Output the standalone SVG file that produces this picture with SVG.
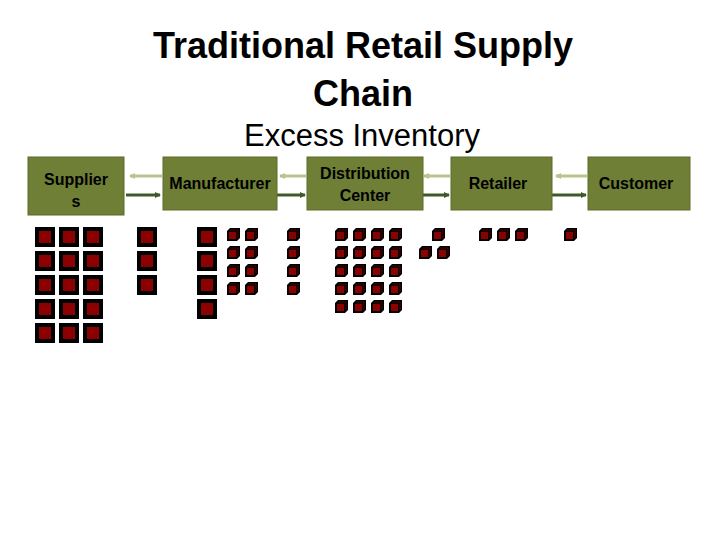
<svg xmlns="http://www.w3.org/2000/svg" xmlns:xlink="http://www.w3.org/1999/xlink" width="720" height="540" viewBox="0 0 720 540">
<style>
.t{font-family:"Liberation Sans",Arial,sans-serif;fill:#000;text-anchor:middle}
.box{fill:#6f7f35;stroke:#5d6b2b;stroke-width:1}
.lbl{font-family:"Liberation Sans",Arial,sans-serif;font-weight:bold;font-size:16px;text-anchor:middle;fill:#000}
.back{stroke:#b7c48a;stroke-width:3;fill:none}
.fwd{stroke:#3f5a2a;stroke-width:3;fill:none}
</style>
<defs>
<marker id="ah" markerWidth="6" markerHeight="6" refX="5" refY="3" orient="auto" markerUnits="userSpaceOnUse"><path d="M0,0 L6,3 L0,6 Z" fill="#3f5a2a"/></marker>
<marker id="ahl" markerWidth="6" markerHeight="6" refX="5" refY="3" orient="auto" markerUnits="userSpaceOnUse"><path d="M0,0 L6,3 L0,6 Z" fill="#b7c48a"/></marker>
<g id="sq"><rect width="20" height="20" fill="#000"/><rect x="4" y="4" width="12" height="12" fill="#8b0000"/></g>
<g id="cb"><path d="M0,3 L3,0 L13,0 L13,10 L10,13 L0,13 Z" fill="#000"/><rect x="2" y="4" width="7" height="7" fill="#8b0000"/><path d="M3,2 L11,2 L11,10" fill="none" stroke="#5a0000" stroke-width="1"/></g>
</defs>
<text class="t" x="363" y="58" font-size="36" font-weight="bold">Traditional Retail Supply</text>
<text class="t" x="363" y="106" font-size="36" font-weight="bold">Chain</text>
<text class="t" x="362" y="146" font-size="31">Excess Inventory</text>
<g id="connectors">
<line class="back" x1="162" y1="176" x2="130" y2="176" marker-end="url(#ahl)"/>
<line class="fwd" x1="126" y1="195" x2="160" y2="195" marker-end="url(#ah)"/>
<line class="back" x1="306" y1="176" x2="280" y2="176" marker-end="url(#ahl)"/>
<line class="fwd" x1="277" y1="195" x2="305" y2="195" marker-end="url(#ah)"/>
<line class="back" x1="450" y1="176" x2="424" y2="176" marker-end="url(#ahl)"/>
<line class="fwd" x1="414" y1="195" x2="449" y2="195" marker-end="url(#ah)"/>
<line class="back" x1="587" y1="176" x2="556" y2="176" marker-end="url(#ahl)"/>
<line class="fwd" x1="552" y1="195" x2="586" y2="195" marker-end="url(#ah)"/>
</g>
<g id="suppliers"><rect class="box" x="28" y="157" width="96" height="58"/><text class="lbl" x="76" y="185">Supplier</text><text class="lbl" x="76" y="207">s</text></g>
<g id="manufacturer"><rect class="box" x="163" y="157" width="114" height="53"/><text class="lbl" x="220" y="189">Manufacturer</text></g>
<g id="dc"><rect class="box" x="307" y="157" width="116" height="53"/><text class="lbl" x="365" y="179">Distribution</text><text class="lbl" x="365" y="201">Center</text></g>
<g id="retailer"><rect class="box" x="451" y="157" width="101" height="53"/><text class="lbl" x="498" y="189">Retailer</text></g>
<g id="customer"><rect class="box" x="588" y="157" width="102" height="53"/><text class="lbl" x="636" y="189">Customer</text></g>
<g id="inventory">
<use href="#sq" x="35" y="227"/><use href="#sq" x="59" y="227"/><use href="#sq" x="83" y="227"/>
<use href="#sq" x="35" y="251"/><use href="#sq" x="59" y="251"/><use href="#sq" x="83" y="251"/>
<use href="#sq" x="35" y="275"/><use href="#sq" x="59" y="275"/><use href="#sq" x="83" y="275"/>
<use href="#sq" x="35" y="299"/><use href="#sq" x="59" y="299"/><use href="#sq" x="83" y="299"/>
<use href="#sq" x="35" y="323"/><use href="#sq" x="59" y="323"/><use href="#sq" x="83" y="323"/>
<use href="#sq" x="137" y="227"/><use href="#sq" x="137" y="251"/><use href="#sq" x="137" y="275"/>
<use href="#sq" x="197" y="227"/><use href="#sq" x="197" y="251"/><use href="#sq" x="197" y="275"/><use href="#sq" x="197" y="299"/>
<use href="#cb" x="227" y="228"/><use href="#cb" x="245" y="228"/><use href="#cb" x="227" y="246"/><use href="#cb" x="245" y="246"/>
<use href="#cb" x="227" y="264"/><use href="#cb" x="245" y="264"/><use href="#cb" x="227" y="282"/><use href="#cb" x="245" y="282"/>
<use href="#cb" x="287" y="228"/><use href="#cb" x="287" y="246"/><use href="#cb" x="287" y="264"/><use href="#cb" x="287" y="282"/>
<use href="#cb" x="335" y="228"/><use href="#cb" x="353" y="228"/><use href="#cb" x="371" y="228"/><use href="#cb" x="389" y="228"/>
<use href="#cb" x="335" y="246"/><use href="#cb" x="353" y="246"/><use href="#cb" x="371" y="246"/><use href="#cb" x="389" y="246"/>
<use href="#cb" x="335" y="264"/><use href="#cb" x="353" y="264"/><use href="#cb" x="371" y="264"/><use href="#cb" x="389" y="264"/>
<use href="#cb" x="335" y="282"/><use href="#cb" x="353" y="282"/><use href="#cb" x="371" y="282"/><use href="#cb" x="389" y="282"/>
<use href="#cb" x="335" y="300"/><use href="#cb" x="353" y="300"/><use href="#cb" x="371" y="300"/><use href="#cb" x="389" y="300"/>
<use href="#cb" x="432" y="228"/><use href="#cb" x="419" y="246"/><use href="#cb" x="437" y="246"/>
<use href="#cb" x="479" y="228"/><use href="#cb" x="497" y="228"/><use href="#cb" x="515" y="228"/>
<use href="#cb" x="564" y="228"/>
</g>
</svg>
